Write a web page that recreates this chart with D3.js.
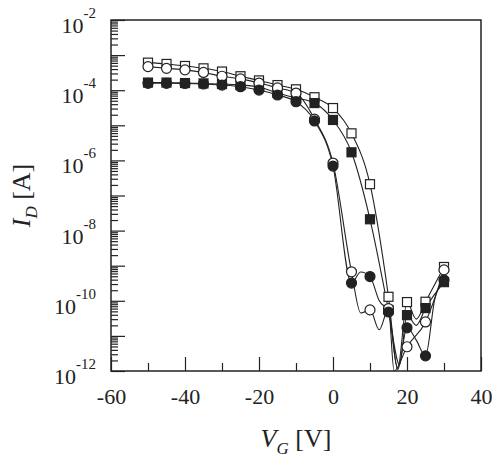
<!DOCTYPE html>
<html>
<head>
<meta charset="utf-8">
<script src="https://cdn.jsdelivr.net/npm/d3@7"></script>
<style>
  body { margin: 0; background: #fff; }
  svg text { font-family: "Liberation Serif", "Times New Roman", serif; fill: #222; }
</style>
</head>
<body>
<svg id="chart" width="494" height="460"></svg>
<script>
// gate voltage of every marker [V]
const gateVoltages = [-50, -45, -40, -35, -30, -25, -20, -15, -10, -5, 0, 5, 10, 15, 20, 25, 30]

// drain current [A], one value per gate voltage
const openSquares = [6.1e-4, 5.6e-4, 4.9e-4, 4.2e-4, 3.4e-4, 2.5e-4, 1.9e-4, 1.4e-4, 1.06e-4, 6.3e-5, 3.1e-5, 5.9e-6, 2.1e-7, 1.3e-10, 9.2e-11, 9.4e-11, 9.2e-10]
const filledSquares = [1.65e-4, 1.65e-4, 1.6e-4, 1.56e-4, 1.5e-4, 1.4e-4, 1.23e-4, 8.3e-5, 6.0e-5, 4.3e-5, 1.42e-5, 1.7e-6, 2.1e-8, 5.5e-11, 3.9e-11, 6.2e-11, 3.4e-10]
const openCircles = [4.7e-4, 4.2e-4, 3.8e-4, 3.2e-4, 2.5e-4, 2.1e-4, 1.6e-4, 1.16e-4, 8.3e-5, 1.5e-5, 8.4e-7, 6.7e-10, 5.5e-11, 6.0e-11, 4.9e-12, 2.5e-11, 7.6e-10]
const filledCircles = [1.57e-4, 1.57e-4, 1.55e-4, 1.5e-4, 1.4e-4, 1.26e-4, 1.01e-4, 7.3e-5, 4.7e-5, 1.33e-5, 6.9e-7, 3.2e-10, 4.9e-10, 4.8e-11, 1.7e-11, 2.7e-12, 3.9e-10]

// noise readings between markers, only on the traces: [V, A]
const openSquareNoise = [[17.5, 1.2e-12], [22.5, 3.0e-11]]
const filledSquareNoise = [[18, 1.5e-12], [22.5, 2.0e-11]]
const openCircleNoise = [[7.5, 4.5e-11], [12.5, 1.5e-11], [16.5, 1.0e-12]]
const filledCircleNoise = [[7.5, 6.6e-10], [12.5, 1.0e-10], [17.5, 1.1e-12], [22.5, 7.6e-12], [27.5, 1.1e-10]]

const xMajorTicks = [-60, -40, -20, 0, 20, 40]
const xMinorTicks = [-50, -30, -10, 10, 30]
const yLabelExponents = [-2, -4, -6, -8, -10, -12]

const width = 494
const height = 460
const margin = { top: 20, right: 13, bottom: 89, left: 111 }
const ink = '#222'

const svg = d3.select('#chart')

const x = d3.scaleLinear()
  .domain([-60, 40])
  .range([margin.left, width - margin.right])

const y = d3.scaleLog()
  .domain([1e-12, 1e-2])
  .range([height - margin.bottom, margin.top])

const plotBottom = height - margin.bottom

svg.append('defs')
  .append('clipPath')
  .attr('id', 'plot-clip')
  .append('rect')
  .attr('x', x(-60))
  .attr('y', y(1e-2))
  .attr('width', x(40) - x(-60))
  .attr('height', y(1e-12) - y(1e-2))

// axes: ticks point into the plot
const yDecades = d3.range(-12, -1).map(e => Math.pow(10, e))
const yMinor = []
yDecades.slice(0, -1).forEach(d => {
  for (let k = 2; k <= 9; k++) yMinor.push(d * k)
})

function styleAxis (g) {
  g.select('.domain').remove()
  g.selectAll('line').attr('stroke', ink).attr('stroke-width', 1.2)
}

svg.append('g')
  .attr('transform', `translate(${x(-60)},0)`)
  .call(d3.axisLeft(y).tickValues(yDecades).tickSizeInner(-14).tickSizeOuter(0).tickFormat(''))
  .call(styleAxis)

svg.append('g')
  .attr('transform', `translate(${x(-60)},0)`)
  .call(d3.axisLeft(y).tickValues(yMinor).tickSizeInner(-7).tickSizeOuter(0).tickFormat(''))
  .call(styleAxis)

svg.append('g')
  .attr('transform', `translate(0,${plotBottom})`)
  .call(d3.axisBottom(x).tickValues(xMajorTicks).tickSizeInner(-14).tickSizeOuter(0).tickPadding(17).tickFormat(d3.format('d')))
  .call(styleAxis)
  .call(g => g.selectAll('text')
    .attr('fill', ink)
    .style('font-size', '22px')
    .style('font-family', '"Liberation Serif", serif')
    .text(d => String(d).replace('\u2212', '-')))

svg.append('g')
  .attr('transform', `translate(0,${plotBottom})`)
  .call(d3.axisBottom(x).tickValues(xMinorTicks).tickSizeInner(-8).tickSizeOuter(0).tickFormat(''))
  .call(styleAxis)

// y tick labels as 10 with a raised exponent
const yLabels = svg.append('g')
  .selectAll('text')
  .data(yLabelExponents)
  .join('text')
  .attr('x', margin.left - 15)
  .attr('y', d => y(Math.pow(10, d)) + 13)
  .attr('text-anchor', 'end')
  .style('font-size', '22px')

yLabels.append('tspan').text('10')
yLabels.append('tspan')
  .attr('dy', -15)
  .style('font-size', '15px')
  .text(d => String(d))

// frame
svg.append('rect')
  .attr('x', x(-60))
  .attr('y', y(1e-2))
  .attr('width', x(40) - x(-60))
  .attr('height', y(1e-12) - y(1e-2))
  .attr('fill', 'none')
  .attr('stroke', ink)
  .attr('stroke-width', 1.5)

// traces
const series = [
  { values: openSquares, noise: openSquareNoise, shape: 'square', fill: '#fff' },
  { values: filledSquares, noise: filledSquareNoise, shape: 'square', fill: ink },
  { values: openCircles, noise: openCircleNoise, shape: 'circle', fill: '#fff' },
  { values: filledCircles, noise: filledCircleNoise, shape: 'circle', fill: ink }
]

const line = d3.line()
  .x(d => x(d[0]))
  .y(d => y(d[1]))
  .curve(d3.curveMonotoneX)

const traces = svg.append('g').attr('clip-path', 'url(#plot-clip)')

series.forEach(s => {
  const points = gateVoltages.map((v, i) => [v, s.values[i]])
    .concat(s.noise)
    .sort((a, b) => a[0] - b[0])
  traces.append('path')
    .datum(points)
    .attr('d', line)
    .attr('fill', 'none')
    .attr('stroke', ink)
    .attr('stroke-width', 1.1)
})

// markers
series.forEach(s => {
  const pts = gateVoltages.map((v, i) => [v, s.values[i]])
  const g = svg.append('g')
  if (s.shape === 'square') {
    g.selectAll('rect')
      .data(pts)
      .join('rect')
      .attr('x', d => x(d[0]) - 4.5)
      .attr('y', d => y(d[1]) - 4.5)
      .attr('width', 9)
      .attr('height', 9)
      .attr('fill', s.fill)
      .attr('stroke', ink)
      .attr('stroke-width', 1.2)
  } else {
    g.selectAll('circle')
      .data(pts)
      .join('circle')
      .attr('cx', d => x(d[0]))
      .attr('cy', d => y(d[1]))
      .attr('r', 5)
      .attr('fill', s.fill)
      .attr('stroke', ink)
      .attr('stroke-width', 1.2)
  }
})

// axis titles
const xTitle = svg.append('text')
  .attr('x', (x(-60) + x(40)) / 2)
  .attr('y', 447)
  .attr('text-anchor', 'middle')
  .style('font-size', '26px')
xTitle.append('tspan').style('font-style', 'italic').text('V')
xTitle.append('tspan').attr('dy', 7).style('font-style', 'italic').style('font-size', '17px').text('G')
xTitle.append('tspan').attr('dy', -7).text(' [V]')

const yTitle = svg.append('text')
  .attr('transform', `translate(30,${(y(1e-2) + y(1e-12)) / 2}) rotate(-90)`)
  .attr('text-anchor', 'middle')
  .style('font-size', '26px')
yTitle.append('tspan').style('font-style', 'italic').text('I')
yTitle.append('tspan').attr('dy', 7).style('font-style', 'italic').style('font-size', '17px').text('D')
yTitle.append('tspan').attr('dy', -7).text(' [A]')
</script>
</body>
</html>
